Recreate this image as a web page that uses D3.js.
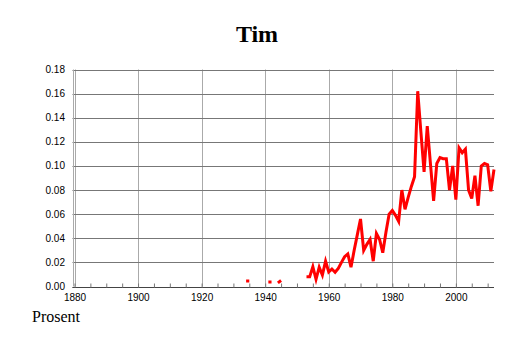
<!DOCTYPE html>
<html>
<head>
<meta charset="utf-8">
<script src="https://cdn.jsdelivr.net/npm/d3@7/dist/d3.min.js"></script>
<style>
  html, body { margin: 0; padding: 0; background: #fff; }
  svg { display: block; }
</style>
</head>
<body>
<svg width="514" height="343"></svg>
<script>
// share of babies named Tim, per year (null = no data)
var years = [1934, 1935, 1936, 1937, 1938, 1939, 1940, 1941, 1942, 1943, 1944, 1945,
  1946, 1947, 1948, 1949, 1950, 1951, 1952, 1953, 1954, 1955, 1956, 1957, 1958, 1959,
  1960, 1961, 1962, 1963, 1964, 1965, 1966, 1967, 1968, 1969, 1970, 1971, 1972, 1973,
  1974, 1975, 1976, 1977, 1978, 1979, 1980, 1981, 1982, 1983, 1984, 1985, 1986, 1987,
  1988, 1989, 1990, 1991, 1992, 1993, 1994, 1995, 1996, 1997, 1998, 1999, 2000, 2001,
  2002, 2003, 2004, 2005, 2006, 2007, 2008, 2009, 2010, 2011, 2012];
var shares = [0.0045, 0.0045, null, null, null, null, null, 0.0037, 0.0037, null, 0.003, 0.005,
  null, null, null, null, null, null, null, 0.008, 0.008, 0.0164, 0.006, 0.016, 0.0095, 0.021,
  0.012, 0.0145, 0.0118, 0.015, 0.020, 0.0247, 0.027, 0.016, 0.030, 0.043, 0.056, 0.030, 0.035, 0.039,
  0.021, 0.044, 0.039, 0.028, 0.045, 0.060, 0.063, 0.059, 0.054, 0.080, 0.064, 0.074, 0.083, 0.091,
  0.162, 0.128, 0.095, 0.133, 0.102, 0.071, 0.102, 0.107, 0.106, 0.106, 0.080, 0.100, 0.072, 0.115,
  0.111, 0.114, 0.080, 0.073, 0.092, 0.067, 0.100, 0.102, 0.101, 0.079, 0.097];

var xDomain = [1880, 2012],
    xTicks = [1880, 1900, 1920, 1940, 1960, 1980, 2000],
    yTicks = [0, 0.02, 0.04, 0.06, 0.08, 0.10, 0.12, 0.14, 0.16, 0.18];

var title = 'Tim',
    yLabel = 'Prosent';

var data = years.map(function(y, i) { return { year: y, value: shares[i] }; });

var svg = d3.select('svg'),
    w = +svg.attr('width'),
    h = +svg.attr('height');

var x = d3.scaleLinear().domain(xDomain).range([74.5, 494]),
    y = d3.scaleLinear().domain([0, 0.18]).range([286.5, 69.5]);

var left = x.range()[0] - 2;

// vertical grid (light)
svg.append('g')
  .selectAll('line')
  .data(xTicks)
  .enter()
  .append('line')
  .attr('x1', function(d) { return Math.round(x(d)) + 0.5; })
  .attr('x2', function(d) { return Math.round(x(d)) + 0.5; })
  .attr('y1', y(0.18))
  .attr('y2', y(0))
  .attr('stroke', '#aaa')
  .attr('stroke-width', 1);

// horizontal grid (darker)
svg.append('g')
  .selectAll('line')
  .data(yTicks)
  .enter()
  .append('line')
  .attr('x1', left)
  .attr('x2', x.range()[1])
  .attr('y1', function(d) { return Math.round(y(d)) + 0.5; })
  .attr('y2', function(d) { return Math.round(y(d)) + 0.5; })
  .attr('stroke', '#777')
  .attr('stroke-width', 1);

// left axis line
svg.append('line')
  .attr('x1', Math.round(left) + 0.5)
  .attr('x2', Math.round(left) + 0.5)
  .attr('y1', y(0.18))
  .attr('y2', y(0))
  .attr('stroke', '#aaa');

// bottom axis with small ticks every 5 years pointing up
var xAxis = svg.append('g')
  .attr('transform', 'translate(0,' + (Math.round(y(0)) + 0.5) + ')')
  .call(d3.axisBottom(x)
    .tickValues(d3.range(1880, 2013, 5))
    .tickSize(-4)
    .tickFormat(function(d) { return xTicks.indexOf(d) >= 0 ? d : ''; }));
xAxis.select('.domain').attr('d', 'M' + left + ',0H' + x.range()[1]).attr('stroke', '#444');
xAxis.selectAll('.tick line').attr('stroke', '#777');
xAxis.selectAll('.tick text')
  .attr('y', 6)
  .attr('dy', '0.71em')
  .attr('font-family', '"Liberation Sans", Arial, sans-serif')
  .attr('font-size', 10)
  .attr('fill', '#000');

// y tick labels
svg.append('g')
  .selectAll('text')
  .data(yTicks)
  .enter()
  .append('text')
  .attr('x', 65)
  .attr('y', function(d) { return y(d); })
  .attr('dy', '0.35em')
  .attr('text-anchor', 'end')
  .attr('font-family', '"Liberation Sans", Arial, sans-serif')
  .attr('font-size', 10)
  .text(function(d) { return d.toFixed(2); });

// the series
var line = d3.line()
  .defined(function(d) { return d.value !== null; })
  .x(function(d) { return x(d.year); })
  .y(function(d) { return y(d.value); });

svg.append('path')
  .datum(data)
  .attr('d', line)
  .attr('fill', 'none')
  .attr('stroke', '#ff0000')
  .attr('stroke-width', 3)
  .attr('stroke-linejoin', 'miter');

// title and label
svg.append('text')
  .attr('x', w / 2)
  .attr('y', 41.5)
  .attr('text-anchor', 'middle')
  .attr('font-family', '"Liberation Serif", "Times New Roman", serif')
  .attr('font-weight', 'bold')
  .attr('font-size', 24)
  .text(title);

svg.append('text')
  .attr('x', 32)
  .attr('y', 322)
  .attr('font-family', '"Liberation Serif", "Times New Roman", serif')
  .attr('font-size', 16)
  .text(yLabel);
</script>
</body>
</html>
